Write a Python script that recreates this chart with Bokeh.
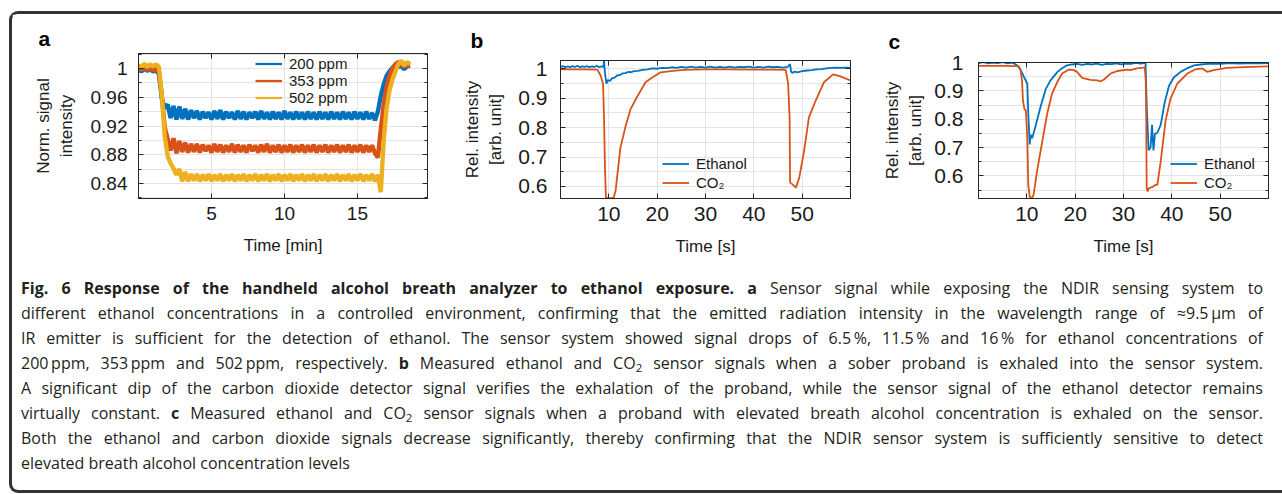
from bokeh.plotting import figure
from bokeh.models import (FixedTicker, LinearAxis, Legend, LegendItem, Div,
                          Range1d, CustomJSTickFormatter)
from bokeh.layouts import row, column
from bokeh.embed import file_html
from bokeh.resources import INLINE

# ---------------- panel a : normalised signal vs time [min] ----------------
time_min = [0.0, 0.2, 0.4, 0.6, 0.8, 1.0, 1.2, 1.4, 1.6, 1.8,
            2.0, 2.2, 2.4, 2.6, 2.8, 3.0, 3.2, 3.4, 3.6, 3.8,
            4.0, 4.2, 4.4, 4.6, 4.8, 5.0, 5.2, 5.4, 5.6, 5.8,
            6.0, 6.2, 6.4, 6.6, 6.8, 7.0, 7.2, 7.4, 7.6, 7.8,
            8.0, 8.2, 8.4, 8.6, 8.8, 9.0, 9.2, 9.4, 9.6, 9.8,
            10.0, 10.2, 10.4, 10.6, 10.8, 11.0, 11.2, 11.4, 11.6, 11.8,
            12.0, 12.2, 12.4, 12.6, 12.8, 13.0, 13.2, 13.4, 13.6, 13.8,
            14.0, 14.2, 14.4, 14.6, 14.8, 15.0, 15.2, 15.4, 15.6, 15.8,
            16.0, 16.2, 16.4, 16.6, 16.8, 17.0, 17.2, 17.4, 17.6, 17.8,
            18.0, 18.2, 18.4, 18.6]
ppm200 = [0.999, 0.996, 1.000, 0.997, 0.999, 0.996, 0.998, 0.992, 0.958, 0.945,
          0.950, 0.931, 0.948, 0.929, 0.947, 0.930, 0.944, 0.929, 0.942, 0.931,
          0.941, 0.929, 0.940, 0.931, 0.939, 0.929, 0.941, 0.930, 0.942, 0.929,
          0.940, 0.931, 0.939, 0.929, 0.941, 0.930, 0.940, 0.929, 0.939, 0.931,
          0.940, 0.929, 0.941, 0.930, 0.939, 0.929, 0.940, 0.930, 0.939, 0.929,
          0.941, 0.930, 0.939, 0.929, 0.940, 0.930, 0.939, 0.929, 0.940, 0.930,
          0.939, 0.929, 0.940, 0.930, 0.939, 0.929, 0.940, 0.930, 0.939, 0.929,
          0.940, 0.930, 0.939, 0.929, 0.940, 0.930, 0.939, 0.929, 0.940, 0.930,
          0.938, 0.928, 0.940, 0.962, 0.978, 0.990, 0.996, 1.001, 1.005, 1.002,
          1.004, 0.999, 1.003, 1.004]
ppm353 = [1.001, 0.998, 1.002, 0.998, 1.001, 0.997, 1.000, 0.996, 0.962, 0.918,
          0.902, 0.886, 0.903, 0.882, 0.899, 0.884, 0.897, 0.883, 0.895, 0.884,
          0.895, 0.883, 0.894, 0.885, 0.893, 0.883, 0.895, 0.884, 0.894, 0.883,
          0.893, 0.884, 0.895, 0.883, 0.894, 0.884, 0.893, 0.883, 0.894, 0.885,
          0.893, 0.883, 0.894, 0.884, 0.895, 0.883, 0.893, 0.884, 0.894, 0.883,
          0.893, 0.884, 0.894, 0.883, 0.893, 0.884, 0.894, 0.883, 0.893, 0.884,
          0.894, 0.883, 0.893, 0.884, 0.894, 0.883, 0.893, 0.884, 0.894, 0.883,
          0.893, 0.884, 0.894, 0.883, 0.893, 0.884, 0.894, 0.883, 0.893, 0.884,
          0.893, 0.882, 0.876, 0.915, 0.950, 0.975, 0.990, 1.000, 1.006, 1.009,
          1.006, 1.003, 1.005, 1.004]
ppm502 = [1.005, 1.002, 1.007, 1.002, 1.006, 1.003, 1.006, 1.002, 0.962, 0.905,
          0.878, 0.868, 0.861, 0.852, 0.860, 0.843, 0.856, 0.843, 0.853, 0.844,
          0.853, 0.843, 0.852, 0.844, 0.853, 0.843, 0.852, 0.844, 0.853, 0.843,
          0.852, 0.844, 0.853, 0.843, 0.852, 0.844, 0.853, 0.843, 0.852, 0.844,
          0.853, 0.843, 0.852, 0.844, 0.853, 0.843, 0.852, 0.844, 0.853, 0.843,
          0.852, 0.844, 0.853, 0.843, 0.852, 0.844, 0.853, 0.843, 0.852, 0.844,
          0.853, 0.843, 0.852, 0.844, 0.853, 0.843, 0.852, 0.844, 0.853, 0.843,
          0.852, 0.844, 0.853, 0.843, 0.852, 0.844, 0.853, 0.843, 0.852, 0.844,
          0.853, 0.843, 0.852, 0.828, 0.900, 0.945, 0.970, 0.985, 0.996, 1.006,
          1.011, 1.004, 1.009, 1.006]
labels_a = ["200 ppm", "353 ppm", "502 ppm"]

# ---------------- panel b : sober proband ----------------
t_eth_b = [0, 0.5, 1, 1.5, 2, 2.5, 3, 3.5, 4, 4.5,
           5, 5.5, 6, 6.5, 7, 7.5, 8, 8.5, 8.9, 9.0,
           9.2, 9.5, 9.8, 10.2, 10.7, 11.2, 11.7, 12.2, 12.8, 13.4,
           14, 14.6, 15.2, 16, 17, 18, 19, 20, 21, 22,
           23, 24, 25, 26, 27, 28, 29, 30, 31, 32,
           33, 34, 35, 36, 37, 38, 39, 40, 41, 42,
           43, 44, 45, 46, 47, 47.5, 47.7, 48.0, 48.5, 49,
           50, 51, 52, 53, 54, 55, 56, 57, 58, 59, 60]
eth_b = [1.006, 1.009, 1.005, 1.008, 1.005, 1.009, 1.006, 1.010, 1.005, 1.008,
         1.006, 1.009, 1.005, 1.008, 1.006, 1.010, 1.005, 1.008, 1.006, 1.028,
         0.985, 0.949, 0.962, 0.958, 0.968, 0.970, 0.977, 0.978, 0.984, 0.985,
         0.989, 0.988, 0.992, 0.993, 0.996, 0.998, 1.001, 1.000, 1.003, 1.002,
         1.005, 1.003, 1.006, 1.004, 1.007, 1.004, 1.006, 1.004, 1.007, 1.004,
         1.006, 1.004, 1.007, 1.004, 1.006, 1.005, 1.007, 1.004, 1.006, 1.004,
         1.007, 1.005, 1.006, 1.004, 1.006, 1.016, 0.990, 0.986, 0.990, 0.988,
         0.992, 0.994, 0.995, 0.998, 0.999, 1.001, 1.003, 1.004, 1.003, 1.004, 1.003]
t_co2_b = [0, 5, 7.6, 8.3, 8.8, 9.0, 9.2, 9.4, 10.0, 10.6,
           11.0, 11.4, 11.7, 12.4, 13.4, 14.5, 15.8, 17.6, 18.6, 20.7,
           22.8, 25.5, 30, 35, 40, 44, 46.6, 47.1, 47.4, 47.5,
           48.0, 48.7, 49.4, 50.4, 51.4, 52.8, 54.5, 56.4, 57.9, 60]
co2_b = [0.998, 0.998, 0.997, 0.977, 0.949, 0.835, 0.664, 0.562, 0.560, 0.560,
         0.562, 0.585, 0.630, 0.732, 0.800, 0.863, 0.903, 0.954, 0.966, 0.988,
         0.992, 0.996, 0.998, 0.998, 0.997, 0.997, 0.996, 0.949, 0.835, 0.613,
         0.607, 0.596, 0.630, 0.721, 0.835, 0.892, 0.954, 0.981, 0.974, 0.960]

# ---------------- panel c : proband with elevated breath alcohol ----------------
t_eth_c = [0, 1, 2, 3, 4, 5, 6, 7, 8.0, 8.7,
           9.4, 10.1, 10.3, 10.6, 10.8, 11.1, 11.8, 12.8, 13.9, 14.9,
           16.3, 17.3, 18.3, 19.3, 20.4, 21.5, 22.5, 23.5, 24.5, 25.5,
           26.5, 27.5, 28.5, 29.5, 30.5, 31.5, 32.5, 33.5, 34.3, 34.55,
           34.8, 35.2, 35.6, 35.9, 36.2, 36.5, 37.0, 37.7, 38.5, 39.4,
           40.4, 41.8, 43.2, 44.6, 46, 48, 50, 52, 54, 56, 58, 60]
eth_c = [0.998, 1.001, 0.997, 1.000, 0.998, 1.001, 0.997, 1.000, 0.990, 0.975,
         0.949, 0.925, 0.820, 0.711, 0.745, 0.733, 0.775, 0.841, 0.906, 0.937,
         0.966, 0.980, 0.990, 0.993, 0.995, 0.992, 0.995, 0.993, 0.996, 0.992,
         0.995, 0.994, 0.997, 0.993, 0.996, 0.995, 0.999, 0.996, 0.998, 1.004,
         0.850, 0.690, 0.700, 0.780, 0.690, 0.748, 0.752, 0.780, 0.857, 0.917,
         0.947, 0.967, 0.980, 0.990, 0.993, 0.996, 0.995, 0.998, 0.996, 0.998, 0.997, 0.998]
t_co2_c = [0, 5, 8.3, 8.7, 9.0, 9.2, 9.5, 9.8, 10.1, 10.3,
           10.6, 11.0, 11.4, 12.1, 13.2, 14.2, 15.2, 16.3, 17.3, 18.7,
           19.7, 20.4, 21.4, 23.2, 24.6, 25.2, 25.9, 27.3, 28.7, 30.8,
           31.4, 32.8, 34.2, 34.4, 34.6, 34.7, 34.8, 35.0, 35.2, 35.9,
           36.6, 37.0, 37.7, 38.7, 39.7, 41.1, 43.2, 44.9, 46.3, 47.3,
           48.7, 51.4, 54.9, 60]
co2_c = [0.988, 0.988, 0.987, 0.972, 0.937, 0.865, 0.836, 0.830, 0.734, 0.568,
         0.526, 0.520, 0.534, 0.615, 0.722, 0.818, 0.889, 0.931, 0.961, 0.975,
         0.973, 0.967, 0.946, 0.939, 0.937, 0.933, 0.939, 0.961, 0.970, 0.975,
         0.973, 0.979, 0.982, 0.984, 0.937, 0.806, 0.556, 0.545, 0.556, 0.560,
         0.568, 0.568, 0.651, 0.794, 0.871, 0.925, 0.961, 0.976, 0.979, 0.967,
         0.973, 0.981, 0.984, 0.986]
labels_bc = ["Ethanol", "CO\u2082"]

# ---------------- ticks ----------------
xticks_a = [5, 10, 15]
yticks_a = [0.84, 0.88, 0.92, 0.96, 1.0]
yminor_a = [0.82, 0.86, 0.90, 0.94, 0.98, 1.02]
xticks_bc = [10, 20, 30, 40, 50]
yticks_bc = [0.6, 0.7, 0.8, 0.9, 1.0]
yminor_bc = [0.55, 0.65, 0.75, 0.85, 0.95]

caption_lines = [
    "<b>Fig. 6 Response of the handheld alcohol breath analyzer to ethanol exposure. a</b> Sensor signal while exposing the NDIR sensing system to",
    "different ethanol concentrations in a controlled environment, confirming that the emitted radiation intensity in the wavelength range of \u22489.5&thinsp;\u00b5m of",
    "IR emitter is sufficient for the detection of ethanol. The sensor system showed signal drops of 6.5&thinsp;%, 11.5&thinsp;% and 16&thinsp;% for ethanol concentrations of",
    "200&thinsp;ppm, 353&thinsp;ppm and 502&thinsp;ppm, respectively. <b>b</b> Measured ethanol and CO<sub>2</sub> sensor signals when a sober proband is exhaled into the sensor system.",
    "A significant dip of the carbon dioxide detector signal verifies the exhalation of the proband, while the sensor signal of the ethanol detector remains",
    "virtually constant. <b>c</b> Measured ethanol and CO<sub>2</sub> sensor signals when a proband with elevated breath alcohol concentration is exhaled on the sensor.",
    "Both the ethanol and carbon dioxide signals decrease significantly, thereby confirming that the NDIR sensor system is sufficiently sensitive to detect",
    "elevated breath alcohol concentration levels",
]

# ---------------- style ----------------
BLUE, ORANGE, YELLOW = "#0072BD", "#D95319", "#EDB120"
AX = "#262626"
GRID = "#e4e4e4"
FONT = "Liberation Sans"
FIG_H = 250


def style_axis(ax, ticker, size, standoff):
    ax.ticker = ticker
    ax.axis_line_color = AX
    ax.axis_line_width = 1
    ax.major_tick_line_color = AX
    ax.minor_tick_line_color = AX
    ax.major_tick_in = 5
    ax.major_tick_out = 0
    ax.minor_tick_in = 3
    ax.minor_tick_out = 0
    ax.major_label_text_font = FONT
    ax.major_label_text_font_size = size
    ax.major_label_text_color = "#1a1a1a"
    ax.major_label_standoff = standoff
    ax.axis_label_text_font = FONT
    ax.axis_label_text_font_size = "17px"
    ax.axis_label_text_font_style = "normal"
    ax.axis_label_text_color = "#1a1a1a"


def blank_axis(ticker):
    ax = LinearAxis(ticker=ticker, formatter=CustomJSTickFormatter(code="return ''"))
    ax.axis_line_color = AX
    ax.major_tick_line_color = AX
    ax.minor_tick_line_color = AX
    ax.major_tick_in = 5
    ax.major_tick_out = 0
    ax.minor_tick_in = 3
    ax.minor_tick_out = 0
    ax.major_label_text_font_size = "0px"
    ax.major_label_standoff = 0
    return ax


def make_panel(letter, letter_offset, letter_standoff, width, xr, yr, borders,
               xticks, yticks, yminor, xlabel, ylabel, yfmt, tick_size,
               ytick_standoff, ylab_standoff):
    left, right, top, bottom = borders
    p = figure(width=width, height=FIG_H, x_range=Range1d(*xr), y_range=Range1d(*yr),
               toolbar_location=None, output_backend="svg", title=letter,
               min_border_left=left, min_border_right=right,
               min_border_top=top, min_border_bottom=bottom,
               background_fill_color="white", border_fill_color="white",
               outline_line_color=AX)
    p.title.align = "left"
    p.title.offset = letter_offset
    p.title.text_font = FONT
    p.title.text_font_size = "21px"
    p.title.text_font_style = "bold"
    p.title.text_color = "black"
    p.title.standoff = letter_standoff
    xt = FixedTicker(ticks=xticks)
    yt = FixedTicker(ticks=yticks, minor_ticks=yminor)
    style_axis(p.xaxis[0], xt, tick_size, 8)
    style_axis(p.yaxis[0], yt, tick_size, ytick_standoff)
    p.xaxis[0].formatter = CustomJSTickFormatter(code="return tick.toFixed(0);")
    p.yaxis[0].formatter = CustomJSTickFormatter(
        code="return tick > 0.999 ? '1' : tick.toFixed(%d);" % yfmt)
    p.xaxis[0].axis_label = xlabel
    p.xaxis[0].axis_label_standoff = 13
    p.yaxis[0].axis_label = ylabel
    p.yaxis[0].axis_label_standoff = ylab_standoff
    p.xgrid.ticker = xt
    p.ygrid.ticker = yt
    p.xgrid.grid_line_color = GRID
    p.ygrid.grid_line_color = GRID
    p.ygrid.minor_grid_line_color = GRID
    p.add_layout(blank_axis(xt), "above")
    p.add_layout(blank_axis(yt), "right")
    return p


def add_legend(p, renderers, names, loc, row_h):
    items = [LegendItem(label=n, renderers=[r]) for r, n in zip(renderers, names)]
    leg = Legend(items=items, location=loc, orientation="vertical",
                 background_fill_alpha=0, border_line_alpha=0,
                 padding=0, margin=0, spacing=0,
                 glyph_width=27, glyph_height=row_h, label_height=row_h,
                 label_standoff=7,
                 label_text_font=FONT, label_text_font_size="15px",
                 label_text_color="#1a1a1a")
    p.add_layout(leg)


# panel a
pa = make_panel("a", -100, 8, 428, (0, 19.8), (0.819, 1.021), (126, 13, 39, 66),
                xticks_a, yticks_a, yminor_a, "Time [min]", "Norm. signal\nintensity",
                2, "19px", 11, 12)
thin = []
for ser, col in ((ppm200, BLUE), (ppm353, ORANGE), (ppm502, YELLOW)):
    thin.append(pa.line(time_min, ser, line_color=col, line_width=2.2))
for ser, col in ((ppm200, BLUE), (ppm353, ORANGE), (ppm502, YELLOW)):
    pa.line(time_min, ser, line_color=col, line_width=4.4)
add_legend(pa, thin, labels_a, (117, 92), 17)

# panel b
pb = make_panel("b", -90, 17, 420, (0, 60), (0.559, 1.028), (120, 10, 46, 66),
                xticks_bc, yticks_bc, yminor_bc, "Time [s]", "Rel. intensity\n[arb. unit]",
                1, "21px", 13, 10)
rb1 = pb.line(t_eth_b, eth_b, line_color=BLUE, line_width=1.8)
rb2 = pb.line(t_co2_b, co2_b, line_color=ORANGE, line_width=1.8)
add_legend(pb, [rb1, rb2], labels_bc, (102, 6), 19)

# panel c
pc = make_panel("c", -90, 20, 422, (0, 60), (0.52, 1.0), (118, 14, 48, 66),
                xticks_bc, yticks_bc, yminor_bc, "Time [s]", "Rel. intensity\n[arb. unit]",
                1, "21px", 15, 6)
rc1 = pc.line(t_eth_c, eth_c, line_color=BLUE, line_width=1.8)
rc2 = pc.line(t_co2_c, co2_c, line_color=ORANGE, line_width=1.8)
add_legend(pc, [rc1, rc2], labels_bc, (192, 6), 19)

# caption
just = "text-align:justify;text-align-last:justify;white-space:nowrap;"
html_lines = []
for i, ln in enumerate(caption_lines):
    st = just if i < len(caption_lines) - 1 else "white-space:nowrap;"
    html_lines.append('<div style="%s">%s</div>' % (st, ln))
caption_html = ('<div style="font-family:\'Open Sans\';font-size:16px;line-height:25px;'
                'color:#231f20;padding:12px 5px 0 9px;width:1256px;">'
                '<style>sub{font-size:0.72em;line-height:0;vertical-align:-0.3em;}</style>'
                + "".join(html_lines) + '</div>')
cap = Div(text=caption_html, width=1270, height=226, margin=(0, 0, 0, 0))

layout = column(row(column(pa), column(pb), column(pc)), cap,
                styles={"border-left": "3px solid #333", "border-top": "3px solid #333",
                        "border-bottom": "3px solid #333",
                        "border-top-left-radius": "9px", "border-bottom-left-radius": "9px",
                        "margin-top": "11px", "margin-left": "9px"})

open("out.html", "w").write(file_html(layout, INLINE))
